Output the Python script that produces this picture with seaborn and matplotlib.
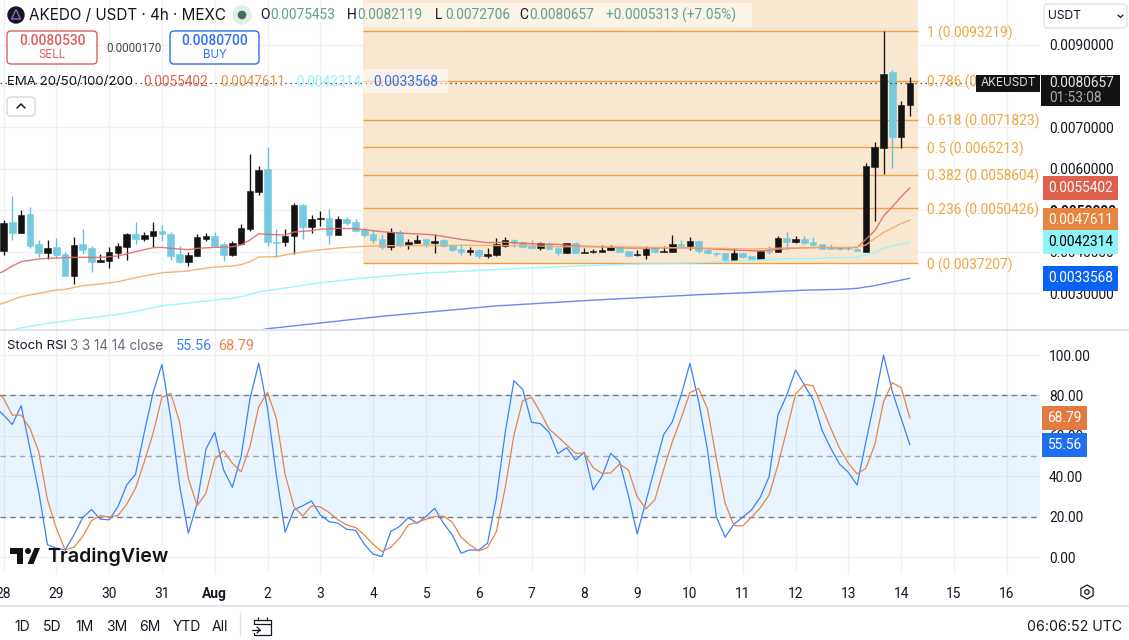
import numpy as np
import pandas as pd
import matplotlib
matplotlib.use("Agg")
import matplotlib.pyplot as plt
from matplotlib.patches import Circle, FancyBboxPatch, Polygon, Rectangle, RegularPolygon
from matplotlib.transforms import blended_transform_factory, offset_copy
import seaborn as sns

# candles, price x 1000, first bar is Jul 28 00:00, 6 bars a day
open_vals = [4.016,4.716,4.450,4.909,4.185,3.967,
    4.112,3.943,3.412,4.185,4.088,3.750,3.774,3.967,4.112,4.426,
    4.305,4.378,4.498,4.426,3.943,3.750,3.895,4.305,4.378,4.185,
    3.919,4.185,4.547,5.440,5.995,4.233,4.233,4.378,5.126,4.595,
    4.788,4.812,4.402,4.788,4.716,4.531,4.426,4.305,4.120,4.474,
    4.169,4.217,4.305,4.217,4.281,4.161,4.064,4.000,4.048,3.903,
    3.927,4.144,4.281,4.233,4.144,4.096,4.185,4.088,3.975,4.209,
    3.975,4.000,4.000,4.048,4.112,4.016,3.927,3.927,4.096,4.000,
    4.000,4.185,4.144,4.257,4.040,3.975,3.967,3.806,3.967,3.903,
    3.831,4.016,4.000,4.330,4.241,4.305,4.233,4.185,4.096,4.088,
    4.072,4.064,3.991,6.051,6.510,8.337,6.775,7.545]
high_vals = [4.764,5.352,5.005,5.078,4.281,4.281,
    4.329,3.991,4.354,4.547,4.136,3.943,4.112,4.209,4.450,4.716,
    4.474,4.716,4.643,4.474,4.136,3.991,4.426,4.450,4.474,4.233,
    4.257,4.667,6.358,6.068,6.527,4.547,4.547,5.175,5.150,4.885,
    4.981,5.030,4.861,4.837,4.788,4.579,4.523,4.426,4.571,4.523,
    4.305,4.402,4.305,4.426,4.305,4.161,4.185,4.112,4.064,4.088,
    4.330,4.354,4.305,4.233,4.281,4.241,4.233,4.112,4.209,4.233,
    4.088,4.072,4.161,4.161,4.112,4.016,4.048,4.136,4.112,4.136,
    4.402,4.281,4.354,4.281,4.064,4.000,3.967,4.088,3.992,3.903,
    4.040,4.136,4.378,4.474,4.378,4.378,4.354,4.185,4.185,4.120,
    4.136,4.088,6.131,6.647,9.322,8.385,7.636,8.212]
low_vals = [3.919,4.281,4.450,4.088,3.871,3.822,
    3.847,3.412,3.219,3.943,3.509,3.750,3.605,3.847,3.798,4.185,
    4.257,4.112,4.257,3.798,3.726,3.653,3.895,4.257,4.136,3.774,
    3.895,4.185,4.498,5.368,4.136,3.871,4.136,3.943,4.305,4.450,
    4.619,4.185,4.402,4.643,4.474,4.362,4.217,4.072,4.048,4.120,
    4.072,4.217,4.120,3.975,4.120,4.024,3.927,3.927,3.855,3.855,
    3.903,4.120,4.120,4.112,4.096,4.048,4.064,3.927,3.975,3.975,
    3.975,3.975,4.000,4.048,4.000,3.903,3.903,3.831,3.975,4.000,
    4.000,4.144,4.048,3.975,3.951,3.903,3.718,3.806,3.855,3.806,
    3.831,3.951,4.000,4.056,4.217,4.185,4.144,4.072,4.064,4.048,
    4.048,4.016,3.991,4.747,5.874,6.027,6.510,7.271]
close_vals = [4.692,4.450,4.885,4.136,3.967,4.088,
    3.919,3.412,4.160,4.040,3.750,3.798,3.991,4.136,4.426,4.305,
    4.402,4.498,4.426,3.895,3.750,3.919,4.354,4.378,4.136,3.919,
    4.209,4.571,5.464,5.971,4.233,4.209,4.378,5.126,4.595,4.788,
    4.812,4.402,4.788,4.692,4.498,4.402,4.289,4.112,4.474,4.161,
    4.233,4.281,4.185,4.257,4.144,4.048,4.000,4.040,3.903,3.943,
    4.185,4.281,4.209,4.120,4.096,4.209,4.072,3.975,4.209,3.975,
    3.992,4.024,4.040,4.112,4.000,3.903,3.943,4.064,4.000,4.016,
    4.185,4.144,4.257,4.016,3.967,3.951,3.806,3.967,3.879,3.831,
    4.016,4.000,4.330,4.241,4.305,4.209,4.169,4.072,4.072,4.072,
    4.056,4.024,6.067,6.518,8.288,6.775,7.540,8.066]

# EMAs at the bars where the line bends
ema20_bars = [-7,-6,-5,-4,-2,-1,1,2,5,7,9,11,12,13,15,16,18,20,21,22,23,24,26,27,29,30,32,34,37,39,42,43,46,49,51,54,57,59,62,65,68,71,74,77,80,82,84,87,90,91,92,93,94,95,96,97]
ema20_vals = [3.436,3.525,3.653,3.758,3.822,3.839,3.855,3.863,3.863,3.895,4.000,4.096,4.104,4.080,4.048,4.080,4.104,4.120,4.160,4.281,4.434,4.418,4.402,4.474,4.507,4.539,4.563,4.555,4.482,4.450,4.418,4.402,4.297,4.217,4.225,4.193,4.177,4.136,4.120,4.088,4.088,4.096,4.072,4.040,4.016,4.056,4.088,4.104,4.088,4.104,4.300,4.506,4.860,5.085,5.326,5.540]
ema50_bars = [-7,-6,-4,-2,0,1,3,5,7,9,12,15,16,18,20,21,22,23,25,27,30,32,34,37,46,54,57,65,73,79,84,90,91,92,93,94,95,96,97]
ema50_vals = [2.69,2.76,2.913,2.993,3.074,3.090,3.179,3.219,3.275,3.372,3.492,3.533,3.573,3.629,3.653,3.686,3.758,3.871,3.879,3.959,4.048,4.088,4.120,4.144,4.152,4.144,4.120,4.112,4.088,4.064,4.096,4.104,4.112,4.16,4.32,4.465,4.57,4.68,4.761]
ema100_bars = [-7,-5,-4,-1,1,3,5,7,9,12,15,18,20,22,23,25,27,30,34,37,42,49,57,66,72,76,82,87,91,92,93,94,95,96,97]
ema100_vals = [2.03,2.11,2.16,2.269,2.326,2.382,2.430,2.486,2.559,2.696,2.760,2.833,2.873,2.961,3.034,3.090,3.154,3.251,3.340,3.404,3.484,3.557,3.637,3.702,3.726,3.758,3.822,3.839,3.871,3.918,3.983,4.079,4.143,4.184,4.231]
ema200_bars = [23,24,37,50,61,73,85,89,91,93,95,97]
ema200_vals = [2.10,2.14,2.44,2.69,2.83,2.96,3.07,3.09,3.115,3.18,3.27,3.357]

# Stoch RSI, one value per bar, starts one bar left of the candles
stoch_k = [74.5,70.3,65.7,75.0,53.9,32.5,6.1,
    4.5,3.6,11,19.6,23.6,18.8,18.5,25,35.7,41,
    61.8,81.5,95.4,68.7,35.7,11.9,26.7,53.5,61.8,43.2,
    34.6,49.8,78.3,95.9,73.6,40.7,12.4,23.4,25.5,27.8,
    20.9,17.6,16.8,13.8,13.3,6.4,1.6,0.3,12.7,15.2,
    19.6,16.8,20.1,24.2,16.8,11,2,3.6,3.5,6.9,
    29.2,61.3,87.3,83,66.7,66.1,61.8,51.2,54.2,48.1,
    51.9,33.3,39.9,51.4,47.3,30.8,11.5,27.5,44,60.5,
    67,80.2,95.9,76.9,53,20,9.9,16.3,19.8,23.4,
    29.7,39.9,70.3,80.2,92.6,85.2,77.8,62.9,53.9,46.1,
    42,35.7,57.2,77.8,100,81.9,68.7,55.56]
stoch_d = [82.7,78.6,70.3,70.3,63.8,52.2,28.3,
    14.3,3.6,4.9,10.2,18.1,20.6,19.9,20.6,26.2,34.1,
    47.3,61.3,79.1,81.1,67,39,25.5,31.6,48.4,52.7,
    46.5,42.3,54.7,74.5,81.5,68.7,41,25,20.4,25.4,
    24.9,22.1,18.5,16,14.7,11,6.4,2.8,4.9,9.4,
    16,17.3,18.8,20.1,20.3,17.3,9.9,6.1,3.1,4.8,
    12.7,34.1,60.5,77.4,79.1,71.7,63.4,59.6,55.5,51.4,
    51.4,44.3,41.5,41.7,46.1,43.2,30,23.9,28.3,43.2,
    57.2,68.7,81.4,83.5,73.3,48.9,26.7,15.7,15.5,19.8,
    24.5,30.8,45.6,62.9,80.6,85.5,84.8,74.5,63.8,53.9,
    46.5,41.2,44,55.5,76.9,86.3,83.9,68.79]

# fib retracement
fib_levels = ["1", "0.786", "0.618", "0.5", "0.382", "0.236", "0"]
fib_prices = [9.3219, 8.1233, 7.1823, 6.5213, 5.8604, 5.0426, 3.7207]
fib_first_bar = 34.85
fib_last_bar = 97.9

# axis labels
day_labels = ["28","29","30","31","Aug","2","3","4","5","6","7","8","9","10","11","12","13","14","15","16"]
day_bars = [-6,0,6,12,18,24,30,36,42,48,54,60,66,72,78,84,90,96,102,108]
price_ticks = [3, 4, 5, 6, 7, 8, 9]
price_tick_labels = ["0.0030000","0.0040000","0.0050000","0.0060000","0.0070000","","0.0090000"]
stoch_ticks = [0, 20, 40, 60, 80, 100]
stoch_tick_labels = ["0.00","20.00","40.00","60.00","80.00","100.00"]
stoch_bands = [20, 50, 80]
range_buttons = ["1D","5D","1M","3M","6M","YTD","All"]

last_close = 8.0657
ema_last = [5.5402, 4.7611, 4.2314, 3.3568]
ema_names = ["0.0055402", "0.0047611", "0.0042314", "0.0033568"]
ema_colors = ["#e0604e", "#e5853f", "#8ff4f8", "#0a62f5"]
ema_lines = ["#e0696a", "#f1ac69", "#92f5fa", "#5b7cf2"]

GRID = "#f0f1f3"
TEXT = "#131722"
BLUE_K = "#3b82f6"
ORANGE_D = "#e8834a"
FIB = "#f0a040"
FIB_TXT = "#eea63f"
UP = "#131313"
DOWN = "#74cbe0"
NUM_FONT = "Roboto"  # tabular digits, Inter's are proportional
NUM_SIZE = 9.9

sns.set_theme(style="white")
plt.rcParams["font.family"] = ["Inter", "DejaVu Sans"]

fig = plt.figure(figsize=(11.29, 6.40), dpi=100, facecolor="white")
W, H = 1129, 640
ax = fig.add_axes([0, (H - 329) / H, 1040 / W, 329 / H])
ax2 = fig.add_axes([0, (H - 574) / H, 1040 / W, (574 - 331) / H])
ui = fig.add_axes([0, 0, 1, 1], zorder=10)
ui.set_xlim(0, W)
ui.set_ylim(H, 0)
ui.axis("off")
ui.patch.set_alpha(0)

# ---- price pane
bars = np.arange(-6, 98)
candles = pd.DataFrame({"bar": bars, "open": open_vals, "high": high_vals, "low": low_vals, "close": close_vals})
candles[["open", "high", "low", "close"]] /= 1000
candles["color"] = np.where(candles["close"] >= candles["open"], UP, DOWN)
wick_colors = np.where(candles["close"] >= candles["open"], UP, "#62bfd8")

ax.set_xlim(-6.4, 111.78)
ax.set_ylim(0.002133, 0.010076)
ax.fill_between([fib_first_bar, fib_last_bar], fib_prices[-1] / 1000, 0.010076, color="#f9e7ce", alpha=0.93, lw=0, zorder=1)
ax.vlines(candles["bar"], candles["low"], candles["high"], colors=wick_colors, lw=0.95, zorder=3)
ax.bar(candles["bar"], (candles["close"] - candles["open"]).abs(), bottom=candles[["open", "close"]].min(axis=1),
       width=0.74, color=candles["color"], edgecolor=candles["color"], lw=0.4, zorder=4)

ema_sets = [(ema20_bars, ema20_vals), (ema50_bars, ema50_vals), (ema100_bars, ema100_vals), (ema200_bars, ema200_vals)]
for (xs, ys), col in zip(ema_sets, ema_lines):
    df_ema = pd.DataFrame({"bar": xs, "price": np.array(ys) / 1000})
    sns.lineplot(data=df_ema, x="bar", y="price", ax=ax, color=col, lw=1.0, alpha=0.9, estimator=None, zorder=5)

for p in fib_prices:
    ax.hlines(p / 1000, fib_first_bar, fib_last_bar, color=FIB, lw=1.0, zorder=2)
ax.axhline(last_close / 1000, color="#222222", lw=0.9, ls=(0, (1, 3)), zorder=6)

ax.set_yticks(np.array(price_ticks) / 1000)
ax.set_yticklabels(price_tick_labels)
ax.yaxis.tick_right()
ax.tick_params(axis="y", length=0, pad=6.5, labelsize=NUM_SIZE, labelcolor=TEXT)
for lab, val in zip(ax.get_yticklabels(), price_ticks):
    lab.set_fontfamily(NUM_FONT)
    if val == 5:
        lab.set_fontweight("bold")
ax.set_xticks(day_bars)
ax.tick_params(axis="x", length=0, labelbottom=False)
ax.grid(True, color=GRID, lw=1.0)
ax.set_axisbelow(True)
ax.set_xlabel("")
ax.set_ylabel("")
for s in ax.spines.values():
    s.set_visible(False)

# ---- stoch rsi pane
stoch = pd.DataFrame({"bar": np.arange(-7, 98), "k": stoch_k, "d": stoch_d})
ax2.set_xlim(-6.4, 111.78)
ax2.set_ylim(-8.3, 111.9)
ax2.axhspan(stoch_bands[0], stoch_bands[2], color="#2196f3", alpha=0.1, lw=0, zorder=1)
for lev in stoch_bands:
    ax2.axhline(lev, color="#787b86" if lev != 50 else "#a4a7b0", lw=1.0, ls=(0, (4, 3)), zorder=2)
sns.lineplot(data=stoch, x="bar", y="k", ax=ax2, color=BLUE_K, lw=0.9, estimator=None, zorder=4)
sns.lineplot(data=stoch, x="bar", y="d", ax=ax2, color=ORANGE_D, lw=0.9, estimator=None, zorder=5)
ax2.set_yticks(stoch_ticks)
ax2.set_yticklabels(stoch_tick_labels)
ax2.yaxis.tick_right()
ax2.tick_params(axis="y", length=0, pad=6.5, labelsize=NUM_SIZE, labelcolor=TEXT)
for lab in ax2.get_yticklabels():
    lab.set_fontfamily(NUM_FONT)
ax2.set_xticks(day_bars)
ax2.set_xticklabels(day_labels)
ax2.tick_params(axis="x", length=0, pad=9.5, labelsize=NUM_SIZE, labelcolor=TEXT)
for lab, name in zip(ax2.get_xticklabels(), day_labels):
    lab.set_fontfamily(NUM_FONT)
    if name == "Aug":
        lab.set_fontweight("bold")
ax2.grid(True, color=GRID, lw=1.0)
ax2.set_axisbelow(True)
ax2.set_xlabel("")
ax2.set_ylabel("")
for s in ax2.spines.values():
    s.set_visible(False)


# ---- chrome on top, in pixels
def txt(x, y, s, color=TEXT, size=9.2, ha="left", weight="normal", z=20, font=None):
    t = ui.text(x, y, s, color=color, fontsize=size, ha=ha, va="center", fontweight=weight, zorder=z)
    if font:
        t.set_fontfamily(font)
    return t


def num(x, y, s, color=TEXT, size=NUM_SIZE, ha="left", weight="normal", z=20):
    return txt(x, y, s, color=color, size=size, ha=ha, weight=weight, z=z, font=NUM_FONT)


def box(x, y, w, h, edge, face="white", lw=1.0, r=4, z=15):
    ui.add_patch(FancyBboxPatch((x + r, y + r), w - 2 * r, h - 2 * r, boxstyle=f"round,pad={r},rounding_size={r}",
                                ec=edge, fc=face, lw=lw, zorder=z))


price_tf = blended_transform_factory(ui.transData, ax.transData)
stoch_tf = blended_transform_factory(ui.transData, ax2.transData)
fib_tf = offset_copy(price_tf, fig=fig, y=-1.8, units="dots")

ui.hlines(329.5, 0, W, color="#e0e3eb", lw=1.3, zorder=8)
ui.hlines(606, 0, W, color="#e0e3eb", lw=1.3, zorder=8)
ui.vlines(240, 612, 636, color="#e0e3eb", lw=1.0, zorder=8)

# fib labels, the tag further down covers most of 0.786
for lev, p in zip(fib_levels, fib_prices):
    ui.text(927, p / 1000, f"{lev} ({p / 1000:.7f})", color=FIB_TXT, fontsize=NUM_SIZE, family=NUM_FONT, va="center",
            transform=fib_tf, zorder=11)

# header
ui.add_patch(Circle((16, 15), 8, color="#131722", zorder=15))
ui.add_patch(Polygon([[16, 9.5], [20.5, 19], [11.5, 19]], closed=True, fc="none", ec="#a05fc0", lw=1.0, zorder=16))
txt(29, 15, "AKEDO / USDT · 4h · MEXC", size=10.95)
ui.add_patch(Circle((242, 15), 9, color="#dfeeea", zorder=15))
ui.add_patch(Circle((242, 15), 3.6, color="#3c6e5e", zorder=16))
ui.add_patch(Rectangle((364, 3), 388, 24, fc="white", alpha=0.5, lw=0, zorder=12))
ohlc = [(260, "O", "0.0075453"), (347, "H", "0.0082119"), (435, "L", "0.0072706"), (519, "C", "0.0080657")]
for x0, letter, value in ohlc:
    num(x0, 15, letter)
    num(x0 + 10, 15, value, color="#5ca28f")
num(606, 15, "+0.0005313 (+7.05%)", color="#5ca28f")

box(7, 31, 90, 33, "#e05c5c")
num(52, 41, "0.0080530", color="#e05c5c", ha="center", weight="medium")
txt(52, 55, "SELL", color="#e05c5c", size=8.3, ha="center")
num(134, 48, "0.0000170", color="#444444", size=8.4, ha="center")
box(170, 31, 89, 33, "#2f6ff0")
num(215, 41, "0.0080700", color="#2f6ff0", ha="center", weight="medium")
txt(215, 55, "BUY", color="#2f6ff0", size=8.3, ha="center")

ui.add_patch(Rectangle((363, 69), 85, 24, fc="white", alpha=0.55, lw=0, zorder=12))
txt(7, 81.5, "EMA 20/50/100/200", size=9.5)
for x0, value, col in zip([143, 220, 296, 373], ema_names, ["#e0604e", "#e9914a", "#8ff4f8", "#2f6ff0"]):
    num(x0, 81.5, value, color=col)
box(7, 97, 28, 19, "#d6d8e0")
ui.plot([17, 21, 25], [108, 104, 108], color=TEXT, lw=1.1, zorder=20)

# usdt dropdown
box(1044, 4, 83, 24, "#e0e3eb")
txt(1048, 16, "USDT", size=8.7)
ui.plot([1118, 1120.5, 1123], [15, 17.5, 15], color=TEXT, lw=0.9, zorder=20)

# last price tags
ui.add_patch(Rectangle((976, 75), 64, 17, color="#131313", lw=0, zorder=14))
txt(1008, 83.5, "AKEUSDT", color="#dddddd", size=8.5, ha="center")
ui.add_patch(Rectangle((1041, 75), 79, 31, color="#131313", lw=0, zorder=14))
ui.text(1049, last_close / 1000, f"{last_close / 1000:.7f}", color="#e8e8e8", fontsize=NUM_SIZE, family=NUM_FONT,
        va="center", transform=price_tf, zorder=20)
num(1049, 97.5, "01:53:08", color="#aaaaaa")

# ema tags
for value, name, col in zip(ema_last, ema_names, ema_colors):
    ui.text(1080.5, value / 1000, name, color="black" if name == "0.0042314" else "white", fontsize=NUM_SIZE,
            family=NUM_FONT, ha="center", va="center", transform=price_tf, zorder=20,
            bbox=dict(boxstyle="square,pad=0.38", fc=col, ec="none"))

# stoch legend and tags
txt(7, 346, "Stoch RSI", size=9.5)
txt(70, 346, "3 3 14 14 close", color="#6a6d78", size=9.7)
num(176, 346, "55.56", color=BLUE_K, size=10.4)
num(218, 346, "68.79", color=ORANGE_D, size=10.4)
for value, name, col in zip([68.79, 55.56], ["68.79", "55.56"], ["#e27a42", "#1f6ff2"]):
    ui.text(1064.5, value, name, color="white", fontsize=NUM_SIZE, family=NUM_FONT, ha="center", va="center",
            transform=stoch_tf, zorder=20, bbox=dict(boxstyle="square,pad=0.38", fc=col, ec="none"))

# tradingview mark
ui.add_patch(Polygon([[10, 548], [23, 548], [23, 564], [17, 564], [17, 553.5], [10, 553.5]], closed=True, color="#131313", lw=0, zorder=20))
ui.add_patch(Circle((28, 551), 3, color="#131313", lw=0, zorder=20))
ui.add_patch(Polygon([[34.5, 548], [40, 548], [33.5, 564], [27.5, 564]], closed=True, color="#131313", lw=0, zorder=20))
txt(47, 557, "TradingView", color="#131313", size=14.1, weight="semibold")

# bottom bar
for x0, label in zip([22, 52, 84, 117, 150, 187, 220], range_buttons):
    txt(x0, 627, label, size=10, ha="center")
ui.add_patch(Rectangle((254, 620), 17, 15, fc="none", ec=TEXT, lw=0.9, zorder=20))
ui.hlines(624, 254, 271, color=TEXT, lw=0.9, zorder=20)
ui.vlines([258, 267], 617, 621, color=TEXT, lw=0.9, zorder=20)
ui.add_patch(Rectangle((251, 625), 11, 8, fc="white", ec="none", zorder=21))
ui.plot([252, 260], [630, 630], color=TEXT, lw=0.9, zorder=22)
ui.plot([257, 260, 257], [627, 630, 633], color=TEXT, lw=0.9, zorder=22)
txt(1122, 627, "06:06:52 UTC", size=10.2, ha="right")
ui.add_patch(RegularPolygon((1087, 592), 6, radius=7, fc="none", ec=TEXT, lw=0.9, zorder=20))
ui.add_patch(Circle((1087, 592), 2.2, fc="none", ec=TEXT, lw=0.9, zorder=20))

fig.savefig("out.png", dpi=100)
